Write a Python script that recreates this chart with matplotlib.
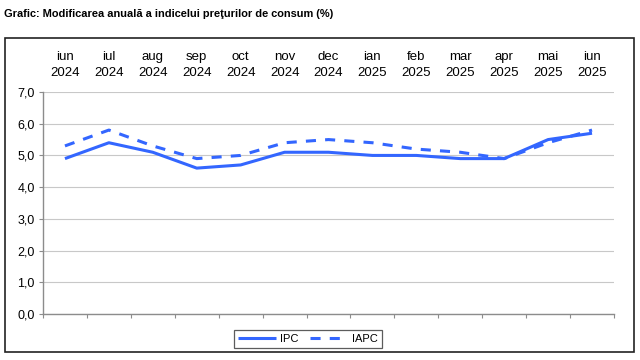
import matplotlib.pyplot as plt
from matplotlib.patches import Rectangle

months = ["iun\n2024", "iul\n2024", "aug\n2024", "sep\n2024", "oct\n2024", "nov\n2024",
          "dec\n2024", "ian\n2025", "feb\n2025", "mar\n2025", "apr\n2025", "mai\n2025", "iun\n2025"]
ipc = [4.9, 5.4, 5.1, 4.6, 4.7, 5.1, 5.1, 5.0, 5.0, 4.9, 4.9, 5.5, 5.7]
iapc = [5.3, 5.8, 5.3, 4.9, 5.0, 5.4, 5.5, 5.4, 5.2, 5.1, 4.9, 5.4, 5.8]
yticks = [0, 1, 2, 3, 4, 5, 6, 7]

plt.rcParams['font.family'] = ['Liberation Sans', 'DejaVu Sans']
blue = '#3366ff'
grey = '#8c8c8c'

fig = plt.figure(figsize=(6.4, 3.6), dpi=100)
fig.patch.set_facecolor('white')

# outer frame
fig.patches.append(Rectangle((5 / 640, 1 - 352 / 360), 629 / 640, 314 / 360,
                             transform=fig.transFigure, fill=False,
                             edgecolor='#222222', linewidth=1.2))
fig.text(4 / 640, 1 - 14 / 360, "Grafic: Modificarea anuală a indicelui preţurilor de consum (%)",
         fontsize=7.9, fontweight='bold', va='center', ha='left')

ax = fig.add_axes([43 / 640, 1 - 314 / 360, 571 / 640, 222 / 360])
x = list(range(len(months)))
ax.plot(x, ipc, color=blue, linewidth=2.2, label='IPC', solid_capstyle='butt')
ax.plot(x, iapc, color=blue, linewidth=2.2, linestyle=(0, (3.3, 3.0)), label='IAPC')

ax.set_xlim(-0.5, len(months) - 0.5)
ax.set_ylim(0, 7)
ax.set_yticks(yticks)
ax.set_yticklabels([f"{v:.1f}".replace('.', ',') for v in yticks], fontsize=9)
ax.yaxis.grid(True, color='#c8c8c8', linewidth=0.8)
ax.set_axisbelow(True)

ax.set_xticks([i - 0.5 for i in range(len(months) + 1)])
ax.set_xticklabels([])
ax.tick_params(axis='x', length=3, color=grey, direction='out')
ax.tick_params(axis='y', length=3, color=grey, pad=3)

for s in ['top', 'right']:
    ax.spines[s].set_visible(False)
for s in ['left', 'bottom']:
    ax.spines[s].set_color(grey)
    ax.spines[s].set_linewidth(1.0)

top = ax.secondary_xaxis('top')
top.set_xticks(x)
top.set_xticklabels(months, fontsize=9.5, linespacing=1.45)
top.tick_params(length=0, pad=9)
top.spines['top'].set_visible(False)

leg = fig.legend(loc='center', bbox_to_anchor=(308 / 640, 1 - 339 / 360), ncol=2,
                 fontsize=8, frameon=True, fancybox=False, edgecolor='#333333',
                 handlelength=3.4, columnspacing=1.0, handletextpad=0.4,
                 borderpad=0.35)
leg.get_frame().set_linewidth(0.9)

fig.savefig('out.png', dpi=100, facecolor='white')
